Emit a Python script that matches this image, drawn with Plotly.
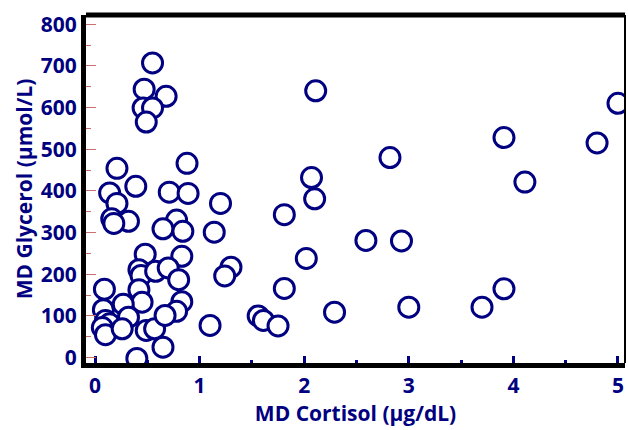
import plotly.graph_objects as go

cortisol = [0.55, 0.47, 0.68, 0.46, 0.55, 0.49, 0.88, 0.21, 0.39, 0.14, 0.71, 0.89,
            1.20, 0.21, 0.16, 0.32, 0.78, 0.18, 0.65, 0.84, 1.14, 0.48, 0.83, 1.30,
            1.24, 0.42, 0.44, 0.58, 0.70, 0.80, 0.42, 0.09, 0.45, 0.83, 0.78, 0.27,
            0.08, 0.32, 0.10, 0.14, 0.07, 0.10, 0.26, 0.49, 0.57, 0.65, 0.40, 0.67,
            1.10, 1.56, 1.61, 1.75, 1.81, 1.81, 2.11, 2.07, 2.10, 2.02, 2.29, 2.59,
            2.93, 3.00, 2.82, 3.70, 3.91, 3.91, 4.11, 4.80, 5.00]
glycerol = [707, 644, 627, 599, 599, 565, 466, 454, 411, 395, 397, 394,
            370, 370, 333, 327, 330, 322, 309, 303, 301, 248, 243, 217,
            196, 211, 197, 207, 215, 187, 163, 164, 133, 134, 111, 128,
            115, 97, 89, 81, 72, 55, 69, 65, 69, 25, -2, 101,
            77, 100, 89, 76, 166, 343, 640, 432, 381, 238, 109, 281,
            280, 121, 480, 121, 165, 528, 421, 515, 610]

x_ticks = [0, 1, 2, 3, 4, 5]
y_ticks = [0, 100, 200, 300, 400, 500, 600, 700, 800]
x_title = "MD Cortisol (µg/dL)"
y_title = "MD Glycerol (µmol/L)"

NAVY = "#000080"
FONT = "Open Sans"

fig = go.Figure()
fig.add_trace(go.Scatter(
    x=cortisol, y=glycerol, mode="markers",
    marker=dict(size=20, color="white", line=dict(color=NAVY, width=3)),
    showlegend=False, hoverinfo="skip",
))

fig.update_layout(
    width=628, height=430,
    margin=dict(l=86, r=3, t=15, b=67),
    paper_bgcolor="white", plot_bgcolor="white",
    font=dict(family=FONT, color=NAVY, size=21),
    xaxis=dict(
        automargin=False,
        range=[-0.086, 5.067], tickvals=x_ticks,
        ticktext=[f"<b>{v}</b>" for v in x_ticks],
        showgrid=False, zeroline=False,
        showline=True, linewidth=5, linecolor="black",
        ticks="inside", ticklen=7, tickwidth=3, tickcolor=NAVY,
        minor=dict(dtick=0.5, ticks="inside", ticklen=3, tickwidth=3, tickcolor=NAVY),
        tickfont=dict(family=FONT, size=21, color=NAVY),
        title=dict(text=f"<b>{x_title}</b>", standoff=8,
                   font=dict(family=FONT, size=21, color=NAVY)),
    ),
    yaxis=dict(
        automargin=False,
        range=[-13, 822], tickvals=y_ticks,
        ticktext=[f"<b>{v}</b>" for v in y_ticks],
        showgrid=False, zeroline=False,
        showline=True, linewidth=5, linecolor="black",
        ticks="inside", ticklen=10, tickwidth=1, tickcolor="#c87070",
        minor=dict(dtick=50, ticks="inside", ticklen=5, tickwidth=1, tickcolor="#c87070"),
        tickfont=dict(family=FONT, size=21, color=NAVY),
        title=dict(text=f"<b>{y_title}</b>", standoff=4,
                   font=dict(family=FONT, size=21, color=NAVY)),
    ),
    shapes=[
        dict(type="line", xref="paper", yref="paper", x0=0, x1=1.0, y0=1, y1=1,
             line=dict(color="black", width=5), layer="above"),
        dict(type="line", xref="paper", yref="paper", x0=1, x1=1, y0=0, y1=1,
             line=dict(color="black", width=2), layer="above"),
    ],
)

fig.write_html(
    "out.html",
    config={"displayModeBar": False},
    post_script="document.body.style.margin='0';document.body.style.overflow='hidden';",
)
